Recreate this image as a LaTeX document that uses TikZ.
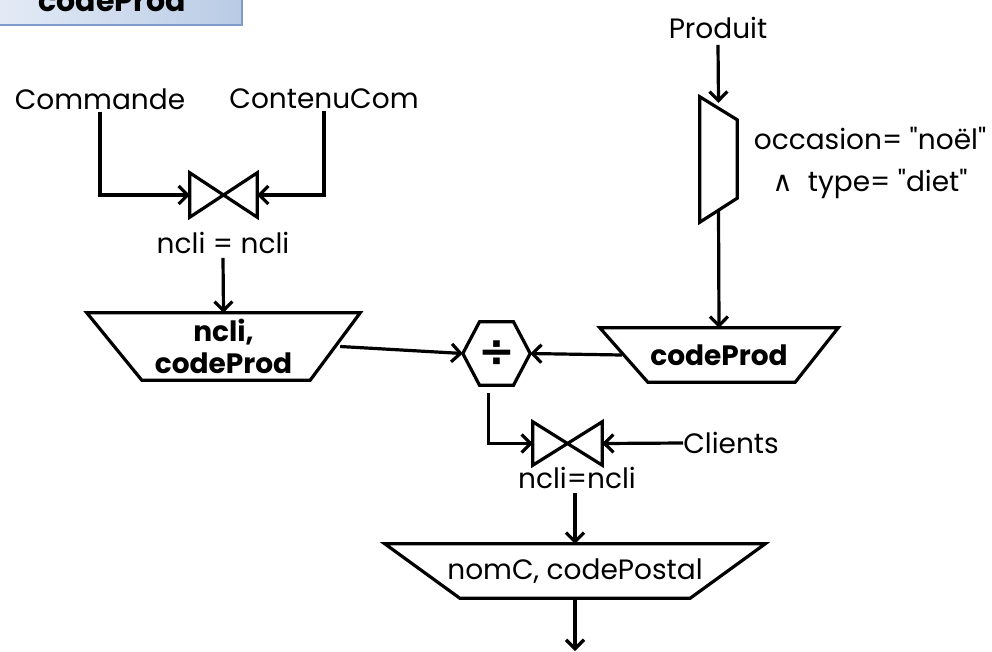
\documentclass[tikz,border=0pt]{standalone}
\usepackage{fontspec}
\setmainfont{Poppins}[Ligatures=TeXOff]
\newfontfamily\symfont{DejaVu Sans}
\usepackage{tikz}
\usetikzlibrary{arrows.meta}
\definecolor{hdrA}{HTML}{E4EBF6}
\definecolor{hdrB}{HTML}{B9CBE5}
\definecolor{hdrLine}{HTML}{7D9CCB}

\begin{document}
\begin{tikzpicture}[x=1pt,y=-1pt,
  every node/.style={font=\fontsize{28}{32}\selectfont,inner sep=0pt},
  flow/.style={line width=3.2pt,-{Straight Barb[length=9pt,width=18pt,line width=3.2pt]}},
  wire/.style={line width=3.2pt},
  slot/.style={draw=none,minimum width=#1}]
\clip (0,0) rectangle (992,651);
\useasboundingbox (0,0) rectangle (992,651);

% title tab
\draw[hdrLine,left color=hdrA,right color=hdrB,line width=1.2pt] (-4,-4) rectangle (242,25);
\node[anchor=base] (tab) at (112,11) {\fontsize{30}{34}\selectfont\bfseries codeProd};

% sources
\node (cmd) at (100,99) {Commande};
\node (cont) at (324,99) {ContenuCom};
\node (prod) at (718,28) {Produit};
\node (cli) at (731,443) {Clients};

% joins, selection, division
\node[slot=67,minimum height=44] (bow1) at (223.5,195) {};
\node[slot=69,minimum height=43] (bow2) at (567.5,443.5) {};
\node[slot=37,minimum height=125] (sel) at (718.5,159.5) {};
\node[slot=67,minimum height=63] (div) at (496.5,353.5) {\fontsize{44}{44}\selectfont\symfont\bfseries ÷};
\begin{scope}[wire,line join=miter]
  \foreach \b in {bow1,bow2}
    \draw (\b.north west) -- (\b.south east) -- (\b.north east) -- (\b.south west) -- cycle;
  \draw (sel.north west) -- ([yshift=-23]sel.north east) -- ([yshift=24]sel.south east) -- (sel.south west) -- cycle;
  \draw (div.west) -- ([xshift=-17]div.north) -- ([xshift=17]div.north) -- (div.east)
        -- ([xshift=17]div.south) -- ([xshift=-17]div.south) -- cycle;
\end{scope}
\node (lab1) at (223,243) {ncli = ncli};
\node (lab2) at (577,478) {ncli=ncli};
\node[align=center] (cond) at (870,163) {occasion= "noël"\\[10pt]{\symfont ∧}\ \ type= "diet"};

% projections
\node[slot=273,minimum height=67,align=center] (proj1) at (223.5,346.5)
  {\bfseries ncli,\\[0pt]\bfseries codeProd};
\node[slot=238,minimum height=54] (proj2) at (719,355) {\bfseries codeProd};
\node[slot=380,minimum height=54] (proj3) at (575,571) {nomC, codePostal};
\begin{scope}[wire,line join=miter]
  \draw (proj1.north west) -- (proj1.north east) -- ([xshift=-50]proj1.south east) -- ([xshift=55]proj1.south west) -- cycle;
  \draw (proj2.north west) -- (proj2.north east) -- ([xshift=-43]proj2.south east) -- ([xshift=48]proj2.south west) -- cycle;
  \draw (proj3.north west) -- (proj3.north east) -- ([xshift=-75]proj3.south east) -- ([xshift=75]proj3.south west) -- cycle;
\end{scope}
\coordinate (out) at (575,651);

% connectors
\draw[flow] ([yshift=-2]cmd.south) |- (bow1.west);
\draw[flow] ([yshift=-2]cont.south) |- (bow1.east);
\draw[flow] ([yshift=-4]lab1.south) -- (proj1.north);
\draw[flow] ([yshift=-6]prod.south) -- ([yshift=-6]sel.north);
\draw[flow] ([yshift=12]sel.south) -- (proj2.north);
\draw[flow] ([xshift=-20]proj1.east) -- (div.west);
\draw[flow] ([xshift=22]proj2.west) -- (div.east);
\draw[flow] ([xshift=-8,yshift=-8]div.south) |- (bow2.west);
\draw[flow] (cli.west) -- (bow2.east);
\draw[flow] ([xshift=-2,yshift=-4]lab2.south) -- (proj3.north);
\draw[flow] (proj3.south) -- (out);
\end{tikzpicture}
\end{document}
